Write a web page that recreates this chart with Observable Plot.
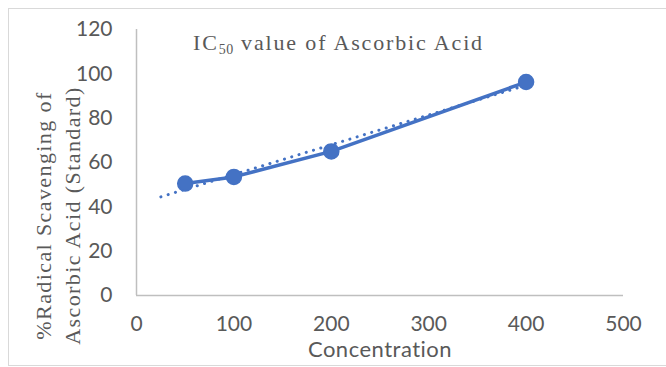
<!DOCTYPE html>
<html>
<head>
<meta charset="utf-8">
<script src="https://cdn.jsdelivr.net/npm/d3@7"></script>
<script src="https://cdn.jsdelivr.net/npm/@observablehq/plot@0.6"></script>
<style>
  html, body { margin: 0; padding: 0; background: #fff; }
  #wrap { position: relative; width: 666px; height: 367px; overflow: hidden; }
  #border { position: absolute; left: 8px; top: 8px; width: 700px; height: 358px; border: 1.5px solid #d9d9d9; box-sizing: border-box; }
  #title { position: absolute; left: 193px; top: 32px; font-family: "Liberation Serif", serif; font-size: 22px; letter-spacing: 1.85px; color: #595959; white-space: nowrap; line-height: 1; }
  #title sub { font-size: 14px; vertical-align: -4px; line-height: 0; letter-spacing: 0.5px; }
  #chart { position: absolute; left: 0; top: 0; }
</style>
</head>
<body>
<div id="wrap">
  <div id="border"></div>
  <div id="chart"></div>
  <div id="title">IC<sub>50</sub> value of Ascorbic Acid</div>
</div>
<script>
const concentration = [50, 100, 200, 400];
const scavenging = [50.5, 53.5, 65, 96.3];
const xTicks = [0, 100, 200, 300, 400, 500];
const yTicks = [0, 20, 40, 60, 80, 100, 120];
const trendStart = 25; // Excel trendline backward forecast start
const yLabel = "%Radical Scavenging of\nAscorbic Acid (Standard)";
const xLabel = "Concentration";

const data = concentration.map((c, i) => ({x: c, y: scavenging[i]}));

// linear least-squares trendline
const mx = d3.mean(concentration), my = d3.mean(scavenging);
const slope = d3.sum(concentration, (c, i) => (c - mx) * (scavenging[i] - my)) / d3.sum(concentration, c => (c - mx) ** 2);
const intercept = my - slope * mx;
const trendEnd = d3.max(concentration);
const trend = [trendStart, trendEnd].map(x => ({x, y: intercept + slope * x}));

const blue = "#4472c4";
const grey = "#595959";

const chart = Plot.plot({
  width: 666,
  height: 367,
  marginLeft: 136,
  marginRight: 43,
  marginTop: 29,
  marginBottom: 72,
  style: {background: "transparent", overflow: "visible"},
  x: {domain: [0, 500], label: null},
  y: {domain: [0, 120], label: null},
  marks: [
    Plot.axisX({ticks: xTicks, tickSize: 0, tickPadding: 21, fontSize: 21, fontFamily: "Lato", fill: grey, label: null}),
    Plot.axisY({ticks: yTicks, tickSize: 0, tickPadding: 24, fontSize: 21, fontFamily: "Lato", fill: grey, label: null}),
    Plot.ruleY([0], {stroke: "#bfbfbf", strokeWidth: 1.5}),
    Plot.ruleX([0], {stroke: "#bfbfbf", strokeWidth: 1.5}),
    Plot.line(trend, {x: "x", y: "y", stroke: blue, strokeWidth: 3, strokeDasharray: "0.1 7.5", strokeLinecap: "round"}),
    Plot.line(data, {x: "x", y: "y", stroke: blue, strokeWidth: 3.5}),
    Plot.dot(data, {x: "x", y: "y", r: 7.5, fill: blue, stroke: blue}),
    Plot.text([xLabel], {frameAnchor: "bottom", dy: 61, fontSize: 22, fontFamily: "Lato", fill: grey, text: d => d}),
    Plot.text([yLabel], {frameAnchor: "left", textAnchor: "middle", rotate: -90, dx: -80, dy: 53, fontSize: 22, fontFamily: "Liberation Serif", fill: grey, lineHeight: 1.3, text: d => d})
  ]
});
const textGroups = chart.querySelectorAll('g[aria-label="text"]');
textGroups[0].style.letterSpacing = "0.5px";
textGroups[1].style.letterSpacing = "1.4px";
document.getElementById("chart").appendChild(chart);
</script>
</body>
</html>
